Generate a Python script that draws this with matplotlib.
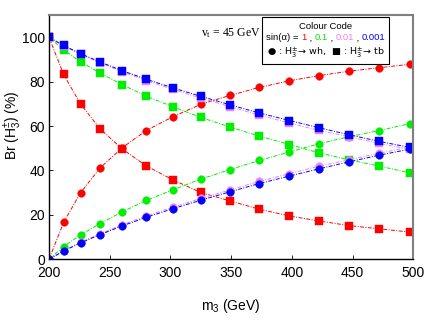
import matplotlib
matplotlib.use("Agg")
import matplotlib.pyplot as plt
from matplotlib.offsetbox import TextArea, HPacker, VPacker, AnchoredOffsetbox

plt.rcParams['font.family'] = ['Liberation Sans', 'DejaVu Sans']
plt.rcParams['mathtext.default'] = 'regular'

# m3 values (GeV)
m3 = [200, 212, 226, 242, 260, 280, 302, 325, 349, 373, 398, 422, 447, 472, 497]

# Br(H3 -> wh) in %, per sin(alpha)
wh_1     = [0, 16.6, 30.0, 41.1, 50.1, 58.0, 64.2, 69.8, 73.8, 77.4, 80.4, 82.7, 84.7, 86.3, 87.8]
wh_01    = [0, 5.7, 11.0, 16.1, 21.3, 26.5, 31.3, 36.1, 40.4, 44.5, 48.3, 52.0, 55.2, 58.0, 61.1]
wh_001   = [0, 3.9, 7.7, 11.5, 15.5, 19.5, 23.5, 27.4, 31.2, 35.1, 38.6, 41.9, 44.8, 47.8, 50.5]
wh_0001  = [0, 3.7, 7.4, 11.1, 15.0, 18.9, 22.8, 26.6, 30.4, 34.1, 37.5, 40.7, 43.9, 46.9, 49.6]

# Br(H3 -> tb) in %
tb_1     = [100, 83.3, 69.9, 58.8, 49.8, 42.1, 35.8, 30.1, 26.3, 22.6, 19.5, 17.3, 15.2, 13.7, 12.3]
tb_01    = [100, 94.3, 89.0, 83.9, 78.7, 73.5, 68.7, 63.9, 59.6, 55.5, 51.7, 48.0, 44.8, 42.0, 38.9]
tb_001   = [100, 96.1, 92.3, 88.5, 84.5, 80.5, 76.5, 72.6, 68.8, 64.9, 61.4, 58.1, 55.2, 52.2, 49.5]
tb_0001  = [100, 96.3, 92.6, 88.9, 85.0, 81.1, 77.2, 73.4, 69.6, 65.9, 62.5, 59.3, 56.1, 53.1, 50.4]

colors = ['#ff0000', '#00ee00', '#ee82ee', '#0000ff']
wh_sets = [wh_1, wh_01, wh_001, wh_0001]
tb_sets = [tb_1, tb_01, tb_001, tb_0001]

fig = plt.figure(figsize=(4.36, 3.27), dpi=100)
ax = fig.add_axes([0.1124, 0.207, 0.8356, 0.747])

dash = (0, (4, 1.5, 1, 1.5))
for c, wh, tb in zip(colors, wh_sets, tb_sets):
    ax.plot(m3, tb, color=c, lw=0.7, ls=dash, marker='s', ms=5.5, mec=c, mew=0.3)
    ax.plot(m3, wh, color=c, lw=0.7, ls=dash, marker='o', ms=5.5, mec=c, mew=0.3)

ax.set_xlim(200, 500)
ax.set_ylim(0, 110)
ax.set_xticks([200, 250, 300, 350, 400, 450, 500])
ax.set_yticks([0, 20, 40, 60, 80, 100])
ax.tick_params(direction='in', length=3, width=0.6, labelsize=10, top=False, right=False)
ax.tick_params(axis='y', pad=3)
ax.tick_params(axis='x', pad=5)
for s in ['left', 'bottom']:
    ax.spines[s].set_linewidth(1.0)
    ax.spines[s].set_color('black')
for s in ['top', 'right']:
    ax.spines[s].set_linewidth(1.5)
    ax.spines[s].set_color('#808080')

ax.set_xlabel('m$_3$ (GeV)', fontsize=10, labelpad=12)
fig.text(13 / 436, 1 - 125 / 327, r'Br (H$_3^{\pm}$) (%)', rotation=90, ha='center', va='center',
         fontsize=10)

ax.text(0.5, 0.955, r'v$_t$ = 45 GeV', transform=ax.transAxes, ha='center', va='top',
        fontsize=8.5, family='Liberation Serif')

fs = 6.8
line1 = TextArea('Colour Code', textprops=dict(fontsize=fs))
parts = [('sin(\u03b1) = ', 'black'), ('1', colors[0]), (' , ', 'black'), ('0.1', colors[1]),
         (' , ', 'black'), ('0.01', colors[2]), (' , ', 'black'), ('0.001', colors[3])]
line2 = HPacker(children=[TextArea(t, textprops=dict(fontsize=fs, color=col)) for t, col in parts],
                pad=0, sep=0)
line3 = TextArea('\u25cf : H$_3^{\\pm}$\u2192 wh,  \u25a0 : H$_3^{\\pm}$\u2192 tb',
                 textprops=dict(fontsize=fs, family=['DejaVu Sans']))
box = VPacker(children=[line1, line2, line3], align='center', pad=0, sep=2)
anch = AnchoredOffsetbox(loc='upper left', child=box, pad=0.3, borderpad=0,
                         bbox_to_anchor=(0.585, 0.99), bbox_transform=ax.transAxes, frameon=True)
anch.patch.set_edgecolor('black')
anch.patch.set_linewidth(0.8)
anch.patch.set_boxstyle('square', pad=0)
ax.add_artist(anch)

fig.savefig('out.png', dpi=100)
